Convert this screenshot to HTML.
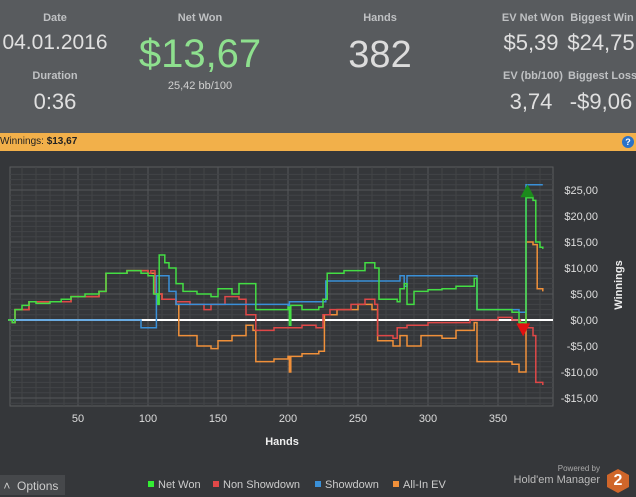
<!DOCTYPE html>
<html><head><meta charset="utf-8"><style>
body{margin:0;width:636px;height:495px;overflow:hidden;background:#35373a;font-family:"Liberation Sans",sans-serif;position:relative}
.hdr{position:absolute;left:0;top:0;width:636px;height:133px;background:#585b5e}
.t{position:absolute;color:#c8c8c8;text-align:center;white-space:nowrap}
.lab{font-size:11px;font-weight:bold;color:#bfc1c3}
.big{font-size:22px;color:#e0e0e0}
.bar{position:absolute;left:0;top:133px;width:636px;height:18px;background:#f2b04a;font-size:10px;line-height:18px;color:#222}
</style></head><body>
<div class="hdr">
<div class="t lab" style="left:30px;top:12px;width:50px">Date</div>
<div class="t big" style="left:0px;top:31px;width:110px;font-size:21px">04.01.2016</div>
<div class="t lab" style="left:20px;top:70px;width:70px">Duration</div>
<div class="t big" style="left:20px;top:89px;width:70px">0:36</div>
<div class="t lab" style="left:160px;top:12px;width:80px">Net Won</div>
<div class="t" style="left:120px;top:32px;width:160px;font-size:40px;color:#8ee08e">$13,67</div>
<div class="t" style="left:150px;top:80px;width:100px;font-size:11px;color:#d0d0d0">25,42 bb/100</div>
<div class="t lab" style="left:350px;top:12px;width:60px">Hands</div>
<div class="t" style="left:330px;top:34px;width:100px;font-size:38px;color:#dcdcdc">382</div>
<div class="t lab" style="left:498px;top:12px;width:70px">EV Net Won</div>
<div class="t big" style="left:498px;top:30px;width:66px">$5,39</div>
<div class="t lab" style="left:568px;top:12px;width:68px">Biggest Win</div>
<div class="t big" style="left:566px;top:30px;width:70px">$24,75</div>
<div class="t lab" style="left:498px;top:70px;width:70px">EV (bb/100)</div>
<div class="t big" style="left:498px;top:89px;width:66px">3,74</div>
<div class="t lab" style="left:568px;top:70px;width:68px">Biggest Loss</div>
<div class="t big" style="left:566px;top:89px;width:70px">-$9,06</div>
</div>
<div class="bar">Winnings: <b>$13,67</b>
<span style="position:absolute;right:2px;top:3px;width:12px;height:12px;border-radius:6px;background:#2a72c8;color:#fff;font-size:9px;line-height:12px;text-align:center;font-weight:bold">?</span></div>
<svg id="ch" width="636" height="495" style="position:absolute;left:0;top:0"></svg>
<div style="position:absolute;left:0;top:475px;width:65px;height:20px;background:#46484b;color:#ccc;font-size:12px;line-height:22px">&nbsp;˄&nbsp; Options</div>
<div style="position:absolute;left:490px;top:464px;width:110px;text-align:right;color:#aaa;font-size:8px">Powered by</div>
<div style="position:absolute;left:470px;top:474px;width:130px;text-align:right;color:#bbb;font-size:11px">Hold'em Manager</div>
<div style="position:absolute;left:607px;top:469px;width:22px;height:24px;background:#d0662a;color:#fff;font-weight:bold;font-size:16px;text-align:center;line-height:24px;clip-path:polygon(50% 0,100% 25%,100% 75%,50% 100%,0 75%,0 25%)">2</div>
<script>
const xTicks=[50,100,150,200,250,300,350];
const yTicks=[-15,-10,-5,0,5,10,15,20,25];
const yLabels=["-$15,00","-$10,00","-$5,00","$0,00","$5,00","$10,00","$15,00","$20,00","$25,00"];
const netHands=[0,3,5,10,15,20,30,38,45,55,65,70,85,95,100,104,107,108,112,115,120,125,135,145,150,160,165,175,177,200,201,202,210,222,225,228,240,255,262,265,278,280,283,285,290,300,310,320,333,335,355,360,365,369,370,375,377,380,382];
const netVals=[0,-0.5,2,2.8,3.5,3.2,3.5,4,4.5,5,5.5,9,9.5,9,8.5,5,3,12.5,11,10,7,5.5,5,4.5,6,5,7,7,2,2.5,-1,2.8,2,2.5,4,9,9.5,11,10,4,3.5,6,7,3,5.5,5.8,6,6.5,8,2,2,1.5,-0.5,-1,23.5,23,15,14,13.67];
const nsdHands=[0,3,5,15,30,45,65,70,85,100,102,105,110,120,130,140,145,155,165,170,177,190,200,210,220,225,230,245,255,262,264,275,278,285,300,330,350,360,366,375,377,382];
const nsdVals=[0,-0.5,2,3.5,3.5,4.5,5.5,9,9.5,9,9.5,5,4,3.5,3,2,3,4.5,4,1,-2,-1.5,-1.5,-1,-1.5,1,2,3,4,3,-3,-3.5,-1.5,-1,-0.5,0,0.5,0,-1.5,-3,-12,-12.5];
const sdHands=[0,95,106,115,120,200,201,225,227,278,280,283,285,333,335,365,369,370,382];
const sdVals=[0,-1.5,8.5,5.5,3,2.8,3.5,3.5,7.5,7.5,8.5,6.5,8.5,8.5,2,1.5,1.5,26,26];
const evHands=[0,3,5,15,30,45,65,70,85,100,105,110,120,122,135,145,150,160,170,175,177,190,200,201,202,210,222,226,235,250,260,264,275,280,285,295,310,320,333,335,355,360,365,369,370,375,378,382];
const evVals=[0,-0.5,2,3.5,3.5,4.5,5.5,9,9.5,9,5,4,3,-3,-5,-5.5,-4,-3,-1,-2,-8,-7.5,-7,-10,-7,-6.5,-6,1,2,3,2,-4,-5,-3,-5,-3,-3.5,-2,-0.5,-8,-8,-8.5,-10,-10,15,14.5,6,5.5];
const winMark=[371,24.75], lossMark=[368,-2];
const L=10,R=553,T=167,B=406;
const X=h=>8+h*1.4, Y=v=>320-v*5.2;
const svg=document.getElementById('ch'),NS='http://www.w3.org/2000/svg';
function mk(tag,a,parent){const e=document.createElementNS(NS,tag);for(const k in a)e.setAttribute(k,a[k]);(parent||svg).appendChild(e);return e;}
let bg=mk('rect',{x:L,y:T,width:R-L,height:B-T,fill:'#35373a',stroke:'#5a5c5f'});


for(let h=10;h<=380;h+=10){let l=mk('line',{x1:X(h),x2:X(h),y1:T,y2:B,stroke:h%50?'#424447':'#55575a'});

}
for(let v=-17;v<=28;v++){const y=Y(v);if(y<T||y>B)continue;let l=mk('line',{x1:L,x2:R,y1:y,y2:y,stroke:v%5?'#424447':'#55575a'});

}
xTicks.forEach(h=>{let t=mk('text',{x:X(h),y:422,fill:'#ddd','font-size':11,'text-anchor':'middle'});t.textContent=h;

});
yTicks.forEach((v,i)=>{let t=mk('text',{x:598,y:Y(v)+4,fill:'#ddd','font-size':11,'text-anchor':'end'});t.textContent=yLabels[i];

});
let xt=mk('text',{x:282,y:445,fill:'#eee','font-size':11,'font-weight':'bold','text-anchor':'middle'});xt.textContent='Hands';


let yt=mk('text',{x:622,y:285,fill:'#eee','font-size':11,'font-weight':'bold','text-anchor':'middle',transform:'rotate(-90 622 285)'});yt.textContent='Winnings';


let z=mk('line',{x1:L,x2:R,y1:Y(0),y2:Y(0),stroke:'#fff','stroke-width':2});


function series(hs,vs,col,name){let d='M'+X(hs[0]).toFixed(1)+','+Y(vs[0]).toFixed(1);
for(let i=1;i<hs.length;i++){d+='H'+X(hs[i]).toFixed(1)+'V'+Y(vs[i]).toFixed(1);}
let p=mk('path',{d:d,fill:'none',stroke:col,'stroke-width':1.5});

}
series(evHands,evVals,'#f0903a','all-in-ev-line');
series(nsdHands,nsdVals,'#e04848','non-showdown-line');
series(sdHands,sdVals,'#3a90d8','showdown-line');
series(netHands,netVals,'#44dd44','net-won-line');
let wx=X(winMark[0]),wy=Y(winMark[1]);
let wm=mk('polygon',{points:`${wx-7},${wy+6} ${wx+7},${wy+6} ${wx},${wy-7}`,fill:'#1c8a1c'});


let lx=X(lossMark[0]),ly=Y(lossMark[1]);
let lm=mk('polygon',{points:`${lx-7},${ly-7} ${lx+7},${ly-7} ${lx},${ly+6}`,fill:'#e01010'});


const legNames=['Net Won','Non Showdown','Showdown','All-In EV'],legCols=['#33ee33','#e04848','#3a90d8','#f0903a'],legX=[148,213,315,393];
legNames.forEach((n,i)=>{let g=mk('g',{});


mk('rect',{x:legX[i],y:481,width:6,height:6,fill:legCols[i]},g);
let t=mk('text',{x:legX[i]+10,y:488,fill:'#ccc','font-size':11},g);t.textContent=n;});
</script>
</body></html>
